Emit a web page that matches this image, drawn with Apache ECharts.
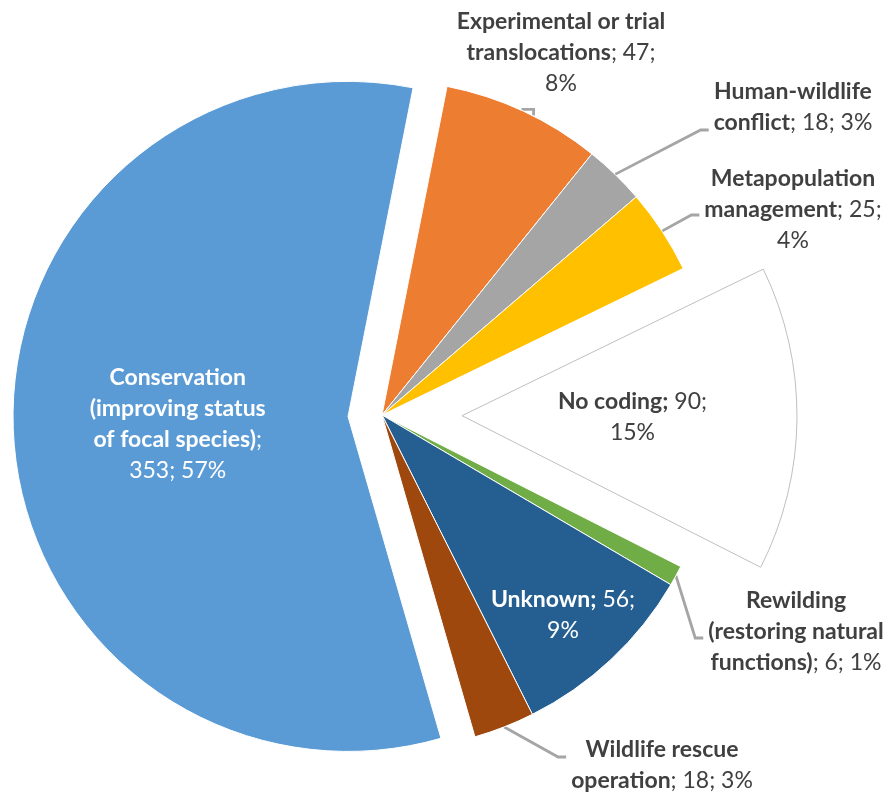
<!DOCTYPE html>
<html><head><meta charset="utf-8">
<script src="https://cdn.jsdelivr.net/npm/echarts@6/dist/echarts.min.js"></script>
<style>html,body{margin:0;padding:0;background:#fff}#c{width:895px;height:796px}</style>
</head><body><div id="c"></div>
<script>
// ---- data ----
const categories = [
  'Experimental or trial translocations',
  'Human-wildlife conflict',
  'Metapopulation management',
  'No coding',
  'Rewilding (restoring natural functions)',
  'Unknown',
  'Wildlife rescue operation',
  'Conservation (improving status of focal species)'
];
const values = [47, 18, 25, 90, 6, 56, 18, 353];

// ---- label text templates ($v = value, $p = percent) ----
const labelTemplates = [
  '{b|Experimental or trial}\n{b|translocations}{n|; $v;}\n{n|$p%}',
  '{b|Human-wildlife}\n{b|conflict}{n|; $v; $p%}',
  '{b|Metapopulation}\n{b|management}{n|; $v;}\n{n|$p%}',
  '{b|No coding;}{n| $v;}\n{n|$p%}',
  '{b|Rewilding}\n{b|(restoring natural}\n{b|functions)}{n|; $v; $p%}',
  '{b|Unknown;}{n| $v;}\n{n|$p%}',
  '{b|Wildlife rescue}\n{b|operation}{n|; $v; $p%}',
  '{b|Conservation}\n{b|(improving status}\n{b|of focal species)}{n|;}\n{n|$v; $p%}'
];

// ---- styles / layout ----
const colors = ['#ED7D31', '#A5A5A5', '#FFC000', '#FFFFFF', '#70AD47', '#255E91', '#9E480E', '#5B9BD5'];
const borderColors = ['#fff', '#fff', '#fff', '#BFBFBF', '#fff', '#fff', '#fff', '#fff'];
const labelColors = ['#404040', '#404040', '#404040', '#404040', '#404040', '#fff', '#404040', '#fff'];
const insideLabel = [false, false, false, true, false, true, false, true];
const CX = 382, CY = 415, R = 335, START = 78.8;
const FONT_SIZE = 23, LINE_H = 31;
// label block centre + leader attach y
const labelPos = [
  { x: 561, y: 53, stub: true },
  { x: 793, y: 107, lineY: 130 },
  { x: 793, y: 210, lineY: 215 },
  { x: 683, y: 422 },
  { x: 796, y: 632, lineY: 638 },
  { x: 563, y: 615 },
  { x: 662, y: 765, lineY: 757 },
  { x: 224, y: 410 }
];

const total = values.reduce((a, b) => a + b, 0);
function arcPoint(i) {
  let cum = 0;
  for (let k = 0; k < i; k++) cum += values[k];
  const deg = (90 - START) + (cum + values[i] / 2) / total * 360;
  const rad = deg * Math.PI / 180;
  return [CX + R * Math.sin(rad), CY - R * Math.cos(rad)];
}

function labelLayoutFn(params) {
  const i = params.dataIndex;
  const cfg = labelPos[i];
  if (!cfg) return {};
  const w = params.labelRect.width;
  const res = { x: cfg.x, y: cfg.y, align: 'center', verticalAlign: 'middle' };
  const a = arcPoint(i);
  if (cfg.stub) {
    res.labelLinePoints = [[a[0] + 10, a[1] + 4], [a[0] + 10, a[1] - 2], [a[0] - 2, a[1] - 2]];
  } else if (cfg.lineY != null) {
    const left = cfg.x - w / 2;
    res.labelLinePoints = [a, [left - 13, cfg.lineY], [left - 5, cfg.lineY]];
  }
  return res;
}

const richStyles = {
  b: { fontFamily: 'Lato', fontWeight: 'bold', fontSize: FONT_SIZE, lineHeight: LINE_H, align: 'center' },
  n: { fontFamily: 'Lato', fontWeight: 'normal', fontSize: FONT_SIZE, lineHeight: LINE_H, align: 'center' }
};

function makeSeries(visibleSet, selectedIdx, offset) {
  return {
    type: 'pie',
    left: 0, top: 0, width: 1600, height: 796,
    center: [CX, CY],
    radius: R,
    startAngle: START,
    clockwise: true,
    selectedMode: 'multiple',
    selectedOffset: offset,
    avoidLabelOverlap: false,
    percentPrecision: 0,
    animation: false,
    silent: true,
    label: {
      position: 'outside',
      fontFamily: 'Lato',
      fontSize: FONT_SIZE,
      lineHeight: LINE_H,
      rich: richStyles,
      formatter: function (p) {
        return labelTemplates[p.dataIndex].replace('$v', p.value).replace('$p', p.percent);
      }
    },
    labelLine: {
      show: true, length: 5, length2: 8, smooth: false,
      lineStyle: { color: '#A5A5A5', width: 2.8 }
    },
    labelLayout: labelLayoutFn,
    data: categories.map(function (name, i) {
      const vis = visibleSet.indexOf(i) >= 0;
      return {
        name: name,
        value: values[i],
        selected: i === selectedIdx,
        itemStyle: vis
          ? { color: colors[i], borderColor: borderColors[i], borderWidth: 1 }
          : { color: 'rgba(0,0,0,0)', borderColor: 'rgba(0,0,0,0)', borderWidth: 0 },
        label: {
          show: vis,
          position: insideLabel[i] ? 'inside' : 'outside',
          color: labelColors[i]
        },
        labelLine: { show: vis && !insideLabel[i] }
      };
    })
  };
}

const chart = echarts.init(document.getElementById('c'), null, { renderer: 'canvas' });
chart.setOption({
  backgroundColor: '#fff',
  animation: false,
  series: [
    makeSeries([0, 1, 2, 3, 4, 5, 6], 3, 80),
    makeSeries([7], 7, 34)
  ]
});
</script>
</body></html>
